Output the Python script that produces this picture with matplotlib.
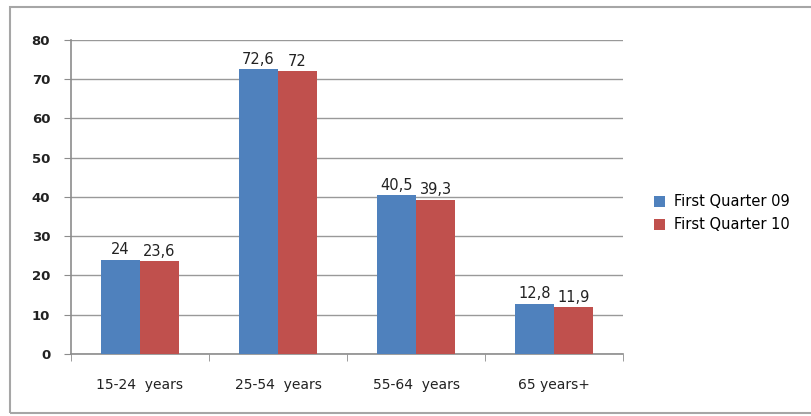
import numpy as np
import matplotlib
matplotlib.use("Agg")
import matplotlib.pyplot as plt
from matplotlib.patches import Rectangle

categories = ["15-24  years", "25-54  years", "55-64  years", "65 years+"]
q1_09 = [24, 72.6, 40.5, 12.8]
q1_10 = [23.6, 72, 39.3, 11.9]
series_names = ["First Quarter 09", "First Quarter 10"]

blue = "#4F81BD"
red = "#C0504D"

fig = plt.figure(figsize=(8.11, 4.16), dpi=100)
fig.patches.append(Rectangle((0.012, 0.007), 0.99, 0.975, transform=fig.transFigure,
                             fill=False, edgecolor="#a6a6a6", linewidth=1.5))
ax = fig.add_axes([0.0875, 0.149, 0.681, 0.755])

x = np.arange(len(categories))
w = 0.283
b1 = ax.bar(x - w / 2, q1_09, w, color=blue, label=series_names[0], zorder=3)
b2 = ax.bar(x + w / 2, q1_10, w, color=red, label=series_names[1], zorder=3)

def fmt(v):
    s = ("%g" % v).replace(".", ",")
    return s

for bars, vals in ((b1, q1_09), (b2, q1_10)):
    for r, v in zip(bars, vals):
        ax.text(r.get_x() + r.get_width() / 2, v + 0.6, fmt(v), ha="center", va="bottom",
                fontsize=10.5, color="#222222", zorder=4)

ax.set_xlim(-0.5, 3.5)
ax.set_ylim(0, 80)
ax.set_yticks(range(0, 81, 10))
ax.yaxis.grid(True, color="#999999", linewidth=1)
ax.set_axisbelow(True)
ax.set_xticks(x)
ax.set_xticklabels(categories, fontsize=10, color="#222222")
ax.tick_params(axis="x", length=0, pad=17)
ax.set_xticks(np.arange(-0.5, 4.0, 1.0), minor=True)
ax.tick_params(axis="x", which="minor", length=5, color="#8c8c8c", direction="out")
ax.tick_params(axis="y", length=5, color="#8c8c8c", labelsize=9.5, pad=10, labelcolor="#222222")
for lbl in ax.get_yticklabels():
    lbl.set_fontweight("bold")

for s in ("top", "right"):
    ax.spines[s].set_visible(False)
for s in ("left", "bottom"):
    ax.spines[s].set_color("#8c8c8c")
    ax.spines[s].set_linewidth(1.2)

fig.legend(handles=[b1, b2], labels=series_names, loc="center left",
           bbox_to_anchor=(0.79, 0.487), frameon=False, fontsize=10.5,
           handlelength=0.8, handleheight=0.8, handletextpad=0.6, labelspacing=0.55)

fig.savefig("out.png", dpi=100)
